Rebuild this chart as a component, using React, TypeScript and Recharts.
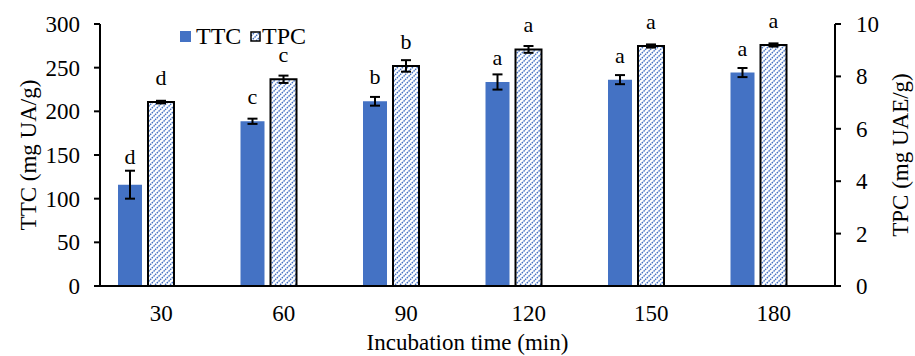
import {
  Bar,
  BarChart,
  ErrorBar,
  LabelList,
  XAxis,
  YAxis,
} from "recharts";

const times = ["30", "60", "90", "120", "150", "180"];
const ttc = [116, 188.6, 211.5, 233.6, 236.3, 244.4];
const ttcErr = [16, 3, 5, 8.7, 5.2, 5.2];
const tpc = [7.02, 7.89, 8.4, 9.03, 9.16, 9.2];
const tpcErr = [0.05, 0.14, 0.22, 0.13, 0.06, 0.06];
const ttcLetters = ["d", "c", "b", "a", "a", "a"];
const tpcLetters = ["d", "c", "b", "a", "a", "a"];
const ttcTicks = [0, 50, 100, 150, 200, 250, 300];
const tpcTicks = [0, 2, 4, 6, 8, 10];

const data = times.map((t, i) => ({
  time: t,
  ttc: ttc[i],
  ttcErr: ttcErr[i],
  tpc: tpc[i],
  tpcErr: tpcErr[i],
}));

const BLUE = "#4472C4";
const FONT = "'Liberation Serif', 'Times New Roman', serif";

// letter sits above the bar top, or above the error bar when that is taller
const letterLabel =
  (letters: string[], values: number[], errs: number[]) => (props: any) => {
    const { x, y, width, height, index } = props;
    const pxPerUnit = height / values[index];
    const errPx = errs[index] * pxPerUnit;
    const base = Math.min(y - 17, y - errPx - 7);
    return (
      <text
        x={x + width / 2}
        y={base}
        textAnchor="middle"
        fontSize={22}
        fontFamily={FONT}
        fill="#000"
      >
        {letters[index]}
      </text>
    );
  };

// y tick text, shifted away from the axis by a fixed gap
const yTick = (gap: number, anchor: "start" | "end") => (p: any) => (
  <text
    x={p.x + (anchor === "end" ? -gap : gap)}
    y={p.y}
    dy="0.35em"
    textAnchor={anchor}
    fontSize={23}
    fontFamily={FONT}
    fill="#000"
  >
    {p.payload.value}
  </text>
);

function Hatch({ id }: { id: string }) {
  return (
    <pattern id={id} patternUnits="userSpaceOnUse" width={5} height={5}>
      <rect width={5} height={5} fill="#fff" />
      <path
        d="M0,5 L5,0 M-1.25,1.25 L1.25,-1.25 M3.75,6.25 L6.25,3.75"
        stroke={BLUE}
        strokeWidth={1.4}
        strokeDasharray="1.6 0.9"
      />
    </pattern>
  );
}

const tickStyle = { fontSize: 23, fill: "#000", fontFamily: FONT };

export default function App() {
  return (
    <div
      style={{
        position: "absolute",
        left: 0,
        top: 0,
        width: 915,
        height: 356,
        background: "#fff",
        fontFamily: FONT,
      }}
    >
      <BarChart
        width={915}
        height={356}
        data={data}
        margin={{ top: 24, right: 0, bottom: 0, left: 0 }}
        barGap={6}
      >
        <defs>
          <Hatch id="tpcHatch" />
        </defs>
        <XAxis
          dataKey="time"
          height={70}
          tickLine={false}
          tickSize={0}
          tickMargin={19}
          tick={tickStyle}
          axisLine={{ stroke: "#000", strokeWidth: 2 }}
          label={{
            value: "Incubation time (min)",
            position: "insideBottom",
            offset: 6,
            fontSize: 23,
            fill: "#000",
            fontFamily: FONT,
          }}
        />
        <YAxis
          yAxisId="left"
          width={100}
          domain={[0, 300]}
          ticks={ttcTicks}
          tickSize={6}
          tickMargin={0}
          tick={yTick(14, "end")}
          tickLine={{ stroke: "#000", strokeWidth: 2 }}
          axisLine={{ stroke: "#000", strokeWidth: 2 }}
          label={{
            value: "TTC (mg UA/g)",
            angle: -90,
            position: "insideLeft",
            offset: 28,
            fontSize: 23,
            fill: "#000",
            fontFamily: FONT,
            style: { textAnchor: "middle" },
          }}
        />
        <YAxis
          yAxisId="right"
          orientation="right"
          width={80}
          domain={[0, 10]}
          ticks={tpcTicks}
          tickSize={6}
          tickMargin={0}
          tick={yTick(15, "start")}
          tickLine={{ stroke: "#000", strokeWidth: 2 }}
          axisLine={{ stroke: "#000", strokeWidth: 2 }}
          label={{
            value: "TPC (mg UAE/g)",
            angle: -90,
            position: "insideRight",
            offset: 15,
            fontSize: 23,
            fill: "#000",
            fontFamily: FONT,
            style: { textAnchor: "middle" },
          }}
        />
        <Bar
          yAxisId="left"
          dataKey="ttc"
          fill={BLUE}
          barSize={24}
          isAnimationActive={false}
        >
          <ErrorBar dataKey="ttcErr" width={5} stroke="#000" strokeWidth={2} />
          <LabelList dataKey="ttc" content={letterLabel(ttcLetters, ttc, ttcErr)} />
        </Bar>
        <Bar
          yAxisId="right"
          dataKey="tpc"
          fill="url(#tpcHatch)"
          stroke="#000"
          strokeWidth={2}
          barSize={26}
          isAnimationActive={false}
        >
          <ErrorBar dataKey="tpcErr" width={5} stroke="#000" strokeWidth={2} />
          <LabelList dataKey="tpc" content={letterLabel(tpcLetters, tpc, tpcErr)} />
        </Bar>
        {/* empty slot that pushes the pair left, as in the original */}
        <Bar
          yAxisId="left"
          dataKey="spacer"
          fill="transparent"
          barSize={24}
          legendType="none"
          isAnimationActive={false}
        />
      </BarChart>
      <svg
        width={150}
        height={30}
        style={{ position: "absolute", left: 176, top: 21 }}
      >
        <defs>
          <Hatch id="tpcHatchLegend" />
        </defs>
        <rect x={4} y={10} width={11} height={11} fill={BLUE} />
        <text x={20} y={23} fontSize={24} fontFamily={FONT} fill="#000">
          TTC
        </text>
        <rect
          x={75}
          y={11}
          width={9}
          height={9}
          fill="url(#tpcHatchLegend)"
          stroke="#000"
          strokeWidth={1.5}
        />
        <text x={86} y={23} fontSize={24} fontFamily={FONT} fill="#000">
          TPC
        </text>
      </svg>
    </div>
  );
}
